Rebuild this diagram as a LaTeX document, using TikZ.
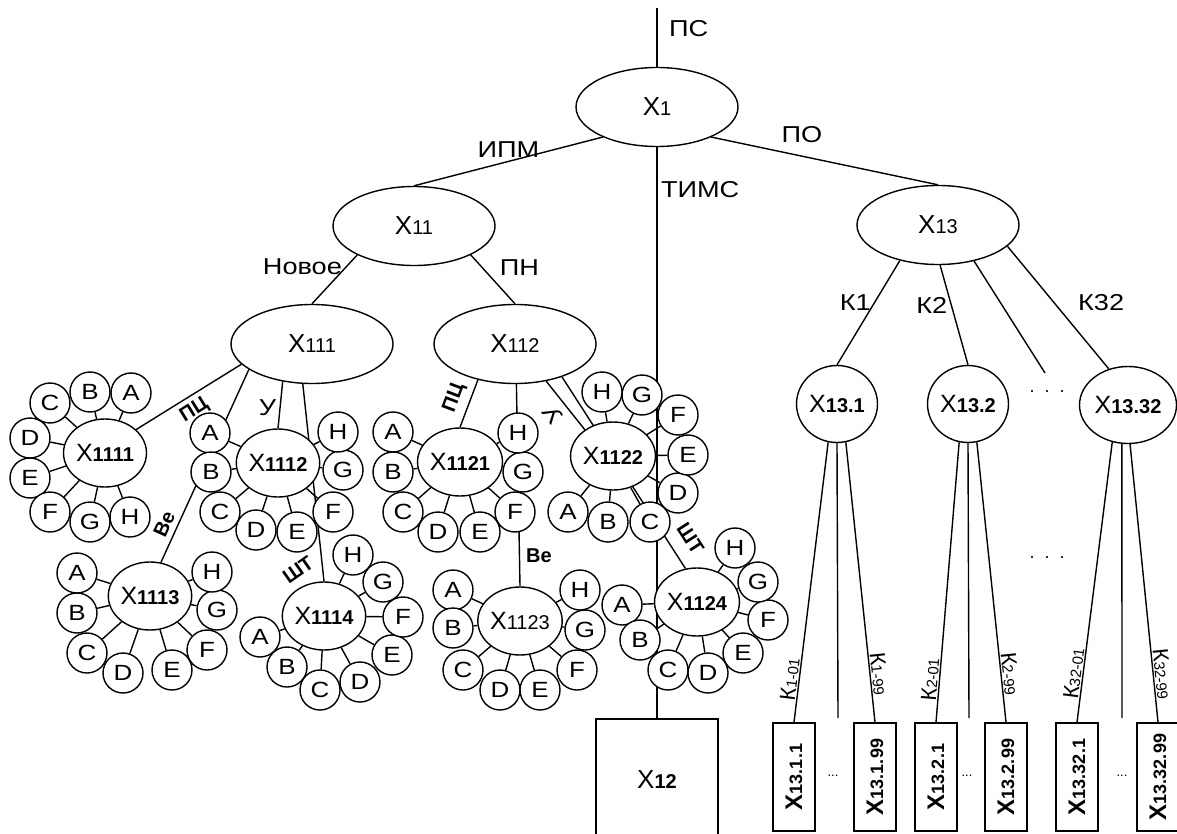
\documentclass[tikz,border=0pt]{standalone}
\usepackage{fontspec}
\setmainfont{Liberation Sans}
\newfontfamily\widefont[FakeStretch=1.18]{Liberation Sans}
\usepackage{graphicx}
\usetikzlibrary{shapes.geometric,backgrounds}
\newcommand{\xr}[1]{X{\fontsize{20}{20}\selectfont #1}}
\newcommand{\xb}[1]{X{\fontsize{20}{20}\selectfont\bfseries #1}}
\newcommand{\xl}[1]{\rotatebox{90}{X{\fontsize{18}{18}\selectfont #1}}}
\newcommand{\kk}[1]{К{\fontsize{15}{15}\selectfont #1}}

\begin{document}
\begin{tikzpicture}[x=1pt, y=-1pt, line width=1.4pt,
    rootn/.style={ellipse, draw, fill=white, inner sep=0pt, minimum width=162, minimum height=79, font=\fontsize{26}{26}\selectfont},
    clust/.style={ellipse, draw, fill=white, inner sep=0pt, minimum width=83, minimum height=68, font=\fontsize{25}{25}\selectfont},
    letter/.style={circle, draw, fill=white, inner sep=0pt, minimum size=40, font=\widefont\fontsize{22}{22}\selectfont},
    branch/.style={ellipse, draw, fill=white, inner sep=0pt, minimum width=81, minimum height=77, font=\fontsize{25}{25}\selectfont},
    leaf/.style={rectangle, draw, fill=white, inner sep=0pt, minimum width=42, minimum height=108, font=\fontsize{24}{24}\selectfont\bfseries},
    tbox/.style={rectangle, draw, fill=white, inner sep=0pt, minimum width=122, minimum height=122, font=\fontsize{26}{26}\selectfont},
    line/.style={draw, line width=1.4pt},
    lab/.style={font=\widefont\fontsize{23}{23}\selectfont},
    tag/.style={font=\fontsize{20}{20}\selectfont\bfseries, inner sep=1pt},
    klab/.style={font=\fontsize{22}{22}\selectfont, inner sep=1pt}]
\useasboundingbox (0,0) rectangle (1177,834);

% main tree
\coordinate (ps) at (657,8);
\node[rootn] (x1) at (657,107) {\xr{1}};
\node[rootn] (x11) at (414,226) {\xr{11}};
\node[rootn] (x13) at (938,225) {\xr{13}};
\node[rootn] (x111) at (312,344) {\xr{111}};
\node[rootn] (x112) at (515,344) {\xr{112}};
\node[tbox] (x12) at (657,780) {\xb{12}};

% X1111
\node[clust] (x1111) at (105,453) {\xb{1111}};
\node[letter] (x1111a) at (131,393) {A};
\node[letter] (x1111b) at (90,392) {B};
\node[letter] (x1111c) at (50,403) {C};
\node[letter] (x1111d) at (30,438) {D};
\node[letter] (x1111e) at (30,478) {E};
\node[letter] (x1111f) at (50,512) {F};
\node[letter] (x1111g) at (90,522) {G};
\node[letter] (x1111h) at (130,517) {H};

% X1112
\node[clust] (x1112) at (278,463) {\xb{1112}};
\node[letter] (x1112a) at (210,433) {A};
\node[letter] (x1112b) at (211,472) {B};
\node[letter] (x1112c) at (220,512) {C};
\node[letter] (x1112d) at (256,530) {D};
\node[letter] (x1112e) at (297,532) {E};
\node[letter] (x1112f) at (333,512) {F};
\node[letter] (x1112g) at (343,470) {G};
\node[letter] (x1112h) at (338,432) {H};

% X1113
\node[clust] (x1113) at (150,596) {\xb{1113}};
\node[letter] (x1113a) at (77,573) {A};
\node[letter] (x1113b) at (77,613) {B};
\node[letter] (x1113c) at (87,653) {C};
\node[letter] (x1113d) at (123,673) {D};
\node[letter] (x1113e) at (172,670) {E};
\node[letter] (x1113f) at (207,650) {F};
\node[letter] (x1113g) at (217,610) {G};
\node[letter] (x1113h) at (212,572) {H};

% X1114
\node[clust] (x1114) at (324,616) {\xb{1114}};
\node[letter] (x1114a) at (260,637) {A};
\node[letter] (x1114b) at (287,667) {B};
\node[letter] (x1114c) at (320,690) {C};
\node[letter] (x1114d) at (360,682) {D};
\node[letter] (x1114e) at (392,655) {E};
\node[letter] (x1114f) at (403,617) {F};
\node[letter] (x1114g) at (383,582) {G};
\node[letter] (x1114h) at (353,555) {H};

% X1121
\node[clust] (x1121) at (460,462) {\xb{1121}};
\node[letter] (x1121a) at (393,432) {A};
\node[letter] (x1121b) at (393,472) {B};
\node[letter] (x1121c) at (403,512) {C};
\node[letter] (x1121d) at (438,532) {D};
\node[letter] (x1121e) at (480,532) {E};
\node[letter] (x1121f) at (515,512) {F};
\node[letter] (x1121g) at (523,472) {G};
\node[letter] (x1121h) at (518,433) {H};

% X1122
\node[clust] (x1122) at (613,456) {\xb{1122}};
\node[letter] (x1122a) at (568,512) {A};
\node[letter] (x1122b) at (608,522) {B};
\node[letter] (x1122c) at (650,522) {C};
\node[letter] (x1122d) at (678,493) {D};
\node[letter] (x1122e) at (688,455) {E};
\node[letter] (x1122f) at (678,415) {F};
\node[letter] (x1122g) at (642,395) {G};
\node[letter] (x1122h) at (602,392) {H};

% X1123
\node[clust] (x1123) at (520,621) {\xr{1123}};
\node[letter] (x1123a) at (453,590) {A};
\node[letter] (x1123b) at (453,628) {B};
\node[letter] (x1123c) at (463,670) {C};
\node[letter] (x1123d) at (500,690) {D};
\node[letter] (x1123e) at (540,690) {E};
\node[letter] (x1123f) at (577,670) {F};
\node[letter] (x1123g) at (585,630) {G};
\node[letter] (x1123h) at (580,590) {H};

% X1124
\node[clust] (x1124) at (697,602) {\xb{1124}};
\node[letter] (x1124a) at (622,605) {A};
\node[letter] (x1124b) at (640,640) {B};
\node[letter] (x1124c) at (668,670) {C};
\node[letter] (x1124d) at (708,673) {D};
\node[letter] (x1124e) at (743,653) {E};
\node[letter] (x1124f) at (768,620) {F};
\node[letter] (x1124g) at (758,582) {G};
\node[letter] (x1124h) at (735,548) {H};

% X13 branches
\node[branch] (x131) at (837,404) {\xb{13.1}};
\node[branch] (x132) at (968,404) {\xb{13.2}};
\node[branch, minimum width=97] (x1332) at (1128,405) {\xb{13.32}};
\coordinate (k13) at (1045,373);
\node[font=\fontsize{18}{18}\selectfont] (dotsa) at (1047,392) {.\ \ .\ \ .};
\node[font=\fontsize{18}{18}\selectfont] (dotsb) at (1047,558) {.\ \ .\ \ .};

\node[leaf] (x1311) at (794,777) {\xl{13.1.1}};
\node[leaf] (x1319) at (875,777) {\xl{13.1.99}};
\node[leaf] (x1321) at (936,777) {\xl{13.2.1}};
\node[leaf] (x1329) at (1006,777) {\xl{13.2.99}};
\node[leaf] (x13321) at (1077,777) {\xl{13.32.1}};
\node[leaf] (x13329) at (1158,777) {\xl{13.32.99}};
\coordinate (m131) at (838,718);
\coordinate (m132) at (969,718);
\coordinate (m1332) at (1122,718);
\node[font=\fontsize{13}{13}\selectfont] (dotsc) at (833,776) {...};
\node[font=\fontsize{13}{13}\selectfont] (dotsd) at (967,776) {...};
\node[font=\fontsize{13}{13}\selectfont] (dotse) at (1122,776) {...};

\begin{scope}[on background layer]
\path[line] (ps) edge node[right=8pt, lab, pos=0.35] {ПС} (x1);
\path[line] (x1.209) edge node[above, lab] {ИПМ} (x11.north);
\path[line] (x1.331) edge node[above=9pt, lab, pos=0.4] {ПО} (x13.north);
\path[line] (x1.south) edge node[right, lab, pos=0.075] {ТИМС} (x12.north);
\path[line] (x11.207) edge node[left, lab, pos=0.25] {Новое} (x111.north);
\path[line] (x11.333) edge node[right=14pt, lab, pos=0.25] {ПН} (x112.north);

\path[line] (x111.196) edge node[sloped, below=4pt, tag, pos=0.52] {ПЦ} (x1111.37);
\path[line] (x111.202) edge node[sloped, above=4pt, tag, pos=0.83] {Ве} (x1113.72);
\path[line] (x111.232) edge node[left, lab, pos=0.55] {У} (x1112.north);
\path[line] (x111.257) edge node[left=9pt, tag, rotate=35, pos=0.89] {ШТ} (x1114.north);
\path[line] (x112.224) edge node[sloped, above=5pt, tag, pos=0.5] {ПЦ} (x1121.north);
\path[line] (x112.272) edge node[right=5pt, tag, pos=0.85] {Ве} (x1123.north);
\path[line] (x112.310) edge node[xshift=-11pt, yshift=-11pt, rotate=128, lab, pos=0.45] {У} (x1122.137);
\path[line] (x112.325) edge node[sloped, above=12pt, tag, pos=0.9] {ШТ} (x1124.109);

\path[line] (x1111) edge (x1111a) edge (x1111b) edge (x1111c) edge (x1111d)
  edge (x1111e) edge (x1111f) edge (x1111g) edge (x1111h);
\path[line] (x1112) edge (x1112a) edge (x1112b) edge (x1112c) edge (x1112d)
  edge (x1112e) edge (x1112f) edge (x1112g) edge (x1112h);
\path[line] (x1113) edge (x1113a) edge (x1113b) edge (x1113c) edge (x1113d)
  edge (x1113e) edge (x1113f) edge (x1113g) edge (x1113h);
\path[line] (x1114) edge (x1114a) edge (x1114b) edge (x1114c) edge (x1114d)
  edge (x1114e) edge (x1114f) edge (x1114g) edge (x1114h);
\path[line] (x1121) edge (x1121a) edge (x1121b) edge (x1121c) edge (x1121d)
  edge (x1121e) edge (x1121f) edge (x1121g) edge (x1121h);
\path[line] (x1122) edge (x1122a) edge (x1122b) edge (x1122c) edge (x1122d)
  edge (x1122e) edge (x1122f) edge (x1122g) edge (x1122h);
\path[line] (x1123) edge (x1123a) edge (x1123b) edge (x1123c) edge (x1123d)
  edge (x1123e) edge (x1123f) edge (x1123g) edge (x1123h);
\path[line] (x1124) edge (x1124a) edge (x1124b) edge (x1124c) edge (x1124d)
  edge (x1124e) edge (x1124f) edge (x1124g) edge (x1124h);

\path[line] (x13.223) edge node[left, lab, pos=0.4] {К1} (x131.north);
\path[line] (x13.273) edge node[left, lab, pos=0.4] {К2} (x132.north);
\path[line] (x13.315) edge (k13);
\path[line] (x13.343) edge node[right=20pt, lab, pos=0.46] {К32} (x1332.118);

\path[line] (x131.257) edge node[sloped, above, klab, pos=0.85] {\kk{1-01}} (x1311.north);
\path[line] (x131.south) edge (m131);
\path[line] (x131.283) edge node[sloped, above, klab, pos=0.83] {\kk{1-99}} (x1319.north);
\path[line] (x132.257) edge node[sloped, above, klab, pos=0.85] {\kk{2-01}} (x1321.north);
\path[line] (x132.south) edge (m132);
\path[line] (x132.283) edge node[sloped, above, klab, pos=0.83] {\kk{2-99}} (x1329.north);
\path[line] (x1332.247) edge node[sloped, above, klab, pos=0.83] {\kk{32-01}} (x13321.north);
\path[line] (x1332.261) edge (m1332);
\path[line] (x1332.273) edge node[sloped, above, klab, pos=0.83] {\kk{32-99}} (x13329.north);
\end{scope}
\end{tikzpicture}
\end{document}
